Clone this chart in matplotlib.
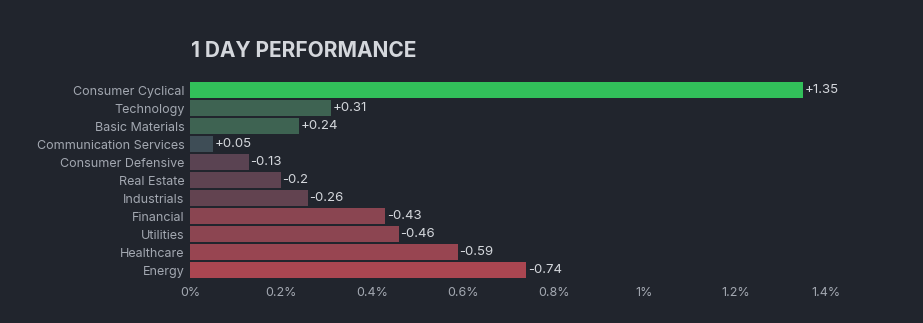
import matplotlib.pyplot as plt

plt.rcParams['font.family'] = ['Inter', 'DejaVu Sans']

sectors = ["Consumer Cyclical", "Technology", "Basic Materials", "Communication Services",
           "Consumer Defensive", "Real Estate", "Industrials", "Financial", "Utilities",
           "Healthcare", "Energy"]
changes = [1.35, 0.31, 0.24, 0.05, -0.13, -0.2, -0.26, -0.43, -0.46, -0.59, -0.74]
colors = ["#32c05a", "#3e6352", "#3e6352", "#3e4d56", "#5a4352", "#5e4351", "#624350",
          "#8a4551", "#8c4551", "#984551", "#aa4651"]
xticks = [0, 0.2, 0.4, 0.6, 0.8, 1.0, 1.2, 1.4]
xticklabels = ["0%", "0.2%", "0.4%", "0.6%", "0.8%", "1%", "1.2%", "1.4%"]

bg = "#21252d"
fig = plt.figure(figsize=(9.23, 3.23), dpi=100, facecolor=bg)
ax = fig.add_axes([0.206, 0.136, 0.689, 0.613], facecolor=bg)

ypos = range(len(sectors))
widths = [abs(c) for c in changes]
ax.barh(ypos, widths, height=0.88, color=colors, left=0)

for y, c in zip(ypos, changes):
    label = f"+{c:g}" if c > 0 else f"{c:g}"
    ax.text(abs(c) + 0.003, y, label, va="center", ha="left", fontsize=9.5, color="#d4d7dc")

ax.set_ylim(len(sectors) - 0.5, -0.5)
ax.set_xlim(0, 1.4)
ax.set_yticks(list(ypos))
ax.set_yticklabels(sectors)
ax.set_xticks(xticks)
ax.set_xticklabels(xticklabels)
ax.tick_params(axis="both", length=0, colors="#a3a8b1", labelsize=9)
ax.tick_params(axis="y", pad=4)
ax.tick_params(axis="x", pad=6)
for s in ax.spines.values():
    s.set_visible(False)

fig.text(0.207, 0.842, "1 DAY PERFORMANCE", fontsize=15, fontweight="bold",
         color="#d4d7dc", va="center", ha="left")

plt.savefig("out.png", dpi=100, facecolor=bg)
